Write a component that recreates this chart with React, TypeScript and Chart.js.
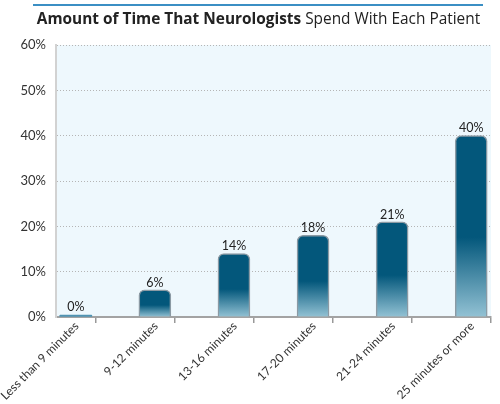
import React, { useEffect, useRef } from "react";
import { Chart, registerables } from "chart.js";

Chart.register(...registerables);

const categories = [
  "Less than 9 minutes",
  "9-12 minutes",
  "13-16 minutes",
  "17-20 minutes",
  "21-24 minutes",
  "25 minutes or more",
];
const values = [0, 6, 14, 18, 21, 40];
const titleBold = "Amount of Time That Neurologists";
const titleNormal = "Spend With Each Patient";

const FONT = "Lato, 'Open Sans', 'DejaVu Sans', sans-serif";
const TFONT = "'Open Sans', Lato, 'DejaVu Sans', sans-serif";
const DARK = "#03577b";
const LIGHT = "#93c2d4";

const bgPlugin = {
  id: "bgPlugin",
  beforeDraw(chart: any) {
    const { ctx, chartArea } = chart;
    if (!chartArea) return;
    ctx.save();
    ctx.fillStyle = "#eef8fd";
    ctx.fillRect(chartArea.left, chartArea.top, chartArea.right - chartArea.left, chartArea.bottom - chartArea.top);
    ctx.restore();
  },
  afterDraw(chart: any) {
    const { ctx } = chart;
    ctx.save();
    // top rule
    ctx.strokeStyle = "#3b8fc4";
    ctx.lineWidth = 2;
    ctx.beginPath();
    ctx.moveTo(33, 5);
    ctx.lineTo(483, 5);
    ctx.stroke();
    // title
    const boldFont = `bold 15.4px ${TFONT}`;
    const normFont = `15.4px ${TFONT}`;
    ctx.font = boldFont;
    const wb = ctx.measureText(titleBold + " ").width;
    ctx.font = normFont;
    const wn = ctx.measureText(titleNormal).width;
    const start = 258.5 - (wb + wn) / 2;
    ctx.fillStyle = "#222";
    ctx.textBaseline = "middle";
    ctx.textAlign = "left";
    ctx.font = boldFont;
    ctx.fillText(titleBold + " ", start, 20);
    ctx.font = normFont;
    ctx.fillText(titleNormal, start + wb, 20);
    // rotated category labels
    const xs = chart.scales.x;
    ctx.font = `12px ${FONT}`;
    ctx.fillStyle = "#333";
    ctx.textAlign = "right";
    ctx.textBaseline = "middle";
    categories.forEach((lab, i) => {
      const px = xs.getPixelForValue(i);
      ctx.save();
      ctx.translate(px + 1, xs.top + 7);
      ctx.rotate(-Math.PI / 4);
      ctx.fillText(lab, 0, 0);
      ctx.restore();
    });
    ctx.restore();
  },
  afterDatasetsDraw(chart: any) {
    const { ctx } = chart;
    const meta = chart.getDatasetMeta(0);
    ctx.save();
    ctx.font = `12.5px ${FONT}`;
    ctx.fillStyle = "#222";
    ctx.textAlign = "center";
    ctx.textBaseline = "bottom";
    meta.data.forEach((el: any, i: number) => {
      const v = values[i];
      const top = v === 0 ? el.base - 2 : el.y;
      ctx.fillText(`${v}%`, el.x, top - 1);
    });
    ctx.restore();
  },
};

export default function App() {
  const ref = useRef<HTMLCanvasElement>(null);
  useEffect(() => {
    if (!ref.current) return;
    const chart = new Chart(ref.current, {
      type: "bar",
      data: {
        datasets: [
          {
            data: values.map((v, i) => ({ x: i, y: v })),
            barThickness: 32,
            minBarLength: 2,
            borderRadius: (c: any) => (values[c.dataIndex] === 0 ? 2 : { topLeft: 6, topRight: 6, bottomLeft: 0, bottomRight: 0 }),
            borderSkipped: "bottom",
            borderWidth: (c: any) => (values[c.dataIndex] === 0 ? 0 : 1.5),
            borderColor: "#8b9aa4",
            backgroundColor: (c: any) => {
              const chart = c.chart;
              const v = values[c.dataIndex];
              if (!chart.chartArea || !chart.scales.y || v === 0) return "#4f93b2";
              const y = chart.scales.y;
              const top = y.getPixelForValue(v);
              const bot = y.getPixelForValue(0);
              const g = chart.ctx.createLinearGradient(0, top, 0, bot);
              g.addColorStop(0, DARK);
              g.addColorStop(0.56, DARK);
              g.addColorStop(1, LIGHT);
              return g;
            },
          } as any,
        ],
      },
      options: {
        animation: false,
        responsive: false,
        devicePixelRatio: 1,
        layout: { padding: { top: 45, right: 9, left: 0, bottom: 0 } },
        plugins: {
          legend: { display: false },
          tooltip: { enabled: false },
        },
        scales: {
          x: {
            type: "linear",
            min: -0.25,
            max: 5.25,
            offset: false,
            afterBuildTicks: (s: any) => {
              const t = [];
              for (let i = 0; i <= 10; i++) t.push({ value: i * 0.5 });
              s.ticks = t;
            },
            afterFit: (s: any) => {
              s.height = 87;
            },
            ticks: { display: false },
            grid: {
              display: true,
              drawOnChartArea: false,
              drawTicks: true,
              tickLength: 6,
              lineWidth: 1.5,
              color: (c: any) => (c.tick && Number.isInteger(c.tick.value) ? "rgba(0,0,0,0)" : "#999"),
            },
            border: { display: true, color: "#a3a3a3", width: 2 },
          },
          y: {
            min: 0,
            max: 60,
            afterFit: (s: any) => {
              s.width = 56;
            },
            ticks: {
              stepSize: 10,
              padding: 10,
              color: "#333",
              font: { family: FONT, size: 13 },
              callback: (v: any) => `${v}%`,
            },
            grid: {
              drawTicks: false,
              color: "#b5b5b5",
              lineWidth: 1,
            },
            border: { display: true, color: "#d2d2d2", width: 2, dash: [1, 2] },
          },
        },
      } as any,
      plugins: [bgPlugin],
    });
    return () => chart.destroy();
  }, []);
  return (
    <div style={{ position: "absolute", left: 0, top: 0, width: 500, height: 404, background: "#fff" }}>
      <canvas ref={ref} width={500} height={404} style={{ width: 500, height: 404, display: "block" }} />
    </div>
  );
}
